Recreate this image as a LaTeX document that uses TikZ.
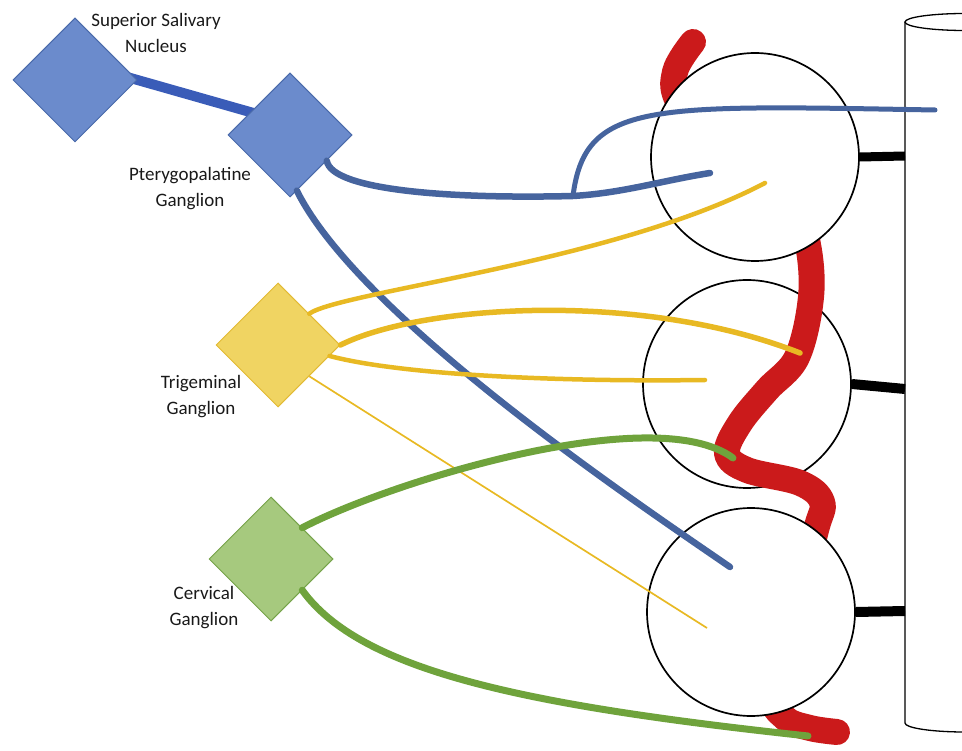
\documentclass[tikz,border=0pt]{standalone}
\usepackage{fontspec}
\setmainfont{Carlito}
\usetikzlibrary{shapes.geometric,backgrounds}

\definecolor{nucFill}{HTML}{6B8BCC}
\definecolor{nucEdge}{HTML}{4A6AAA}
\definecolor{tractBlue}{HTML}{3A5CB8}
\definecolor{nerveBlue}{HTML}{46649E}
\definecolor{triFill}{HTML}{F0D462}
\definecolor{triEdge}{HTML}{E2BA35}
\definecolor{nerveYellow}{HTML}{E8B923}
\definecolor{cerFill}{HTML}{A6C97E}
\definecolor{cerEdge}{HTML}{76A34A}
\definecolor{nerveGreen}{HTML}{6FA33C}
\definecolor{vesselRed}{HTML}{CB1A1B}

\begin{document}
\begin{tikzpicture}[x=1pt, y=-1pt,
  ganglion/.style={diamond, minimum size=124pt, inner sep=0pt, line width=1pt},
  cell/.style={circle, draw=black, fill=white, minimum size=208pt, inner sep=0pt, line width=1.7pt},
  tag/.style={align=center, inner sep=0pt, text=black!90, font=\fontsize{19}{26}\selectfont},
  nerve/.style={line width=6.5pt, line cap=round},
  vessel/.style={line width=26pt, line cap=round, vesselRed},
  bar/.style={line width=9pt, black}]

  \useasboundingbox (0,0) rectangle (962,751);
  \clip (0,0) rectangle (962,751);

  % cells with the vessel running between them
  \node[cell] (cellB) at (747,384) {};
  \draw[vessel] plot[smooth, tension=0.6] coordinates {(693,42) (675,72) (680,105) (730,170) (795,215) (808,245)
    (811,297) (797,357) (767,390) (740,423) (727,453) (747,470) (800,483) (822,502)
    (816,530) (795,610) (772,690) (785,718) (810,728) (837,732)};
  \node[cell] (cellA) at (755,157) {};
  \node[cell] (cellC) at (751,612) {};

  % duct
  \draw[line width=1.3pt] (905,22) -- (905,723) arc[start angle=180, end angle=0, x radius=60, y radius=9] -- (1025,22);
  \draw[line width=1.3pt, fill=white] (965,22) ellipse [x radius=60, y radius=8.5];
  \coordinate (poleA) at (905,156);
  \coordinate (poleB) at (905,389);
  \coordinate (poleC) at (905,611);
  \draw[bar] (cellA.east) -- (poleA);
  \draw[bar, line width=10pt] (cellB.east) -- (poleB);
  \draw[bar, line width=10pt] (cellC.east) -- (poleC);

  % ganglia
  \node[ganglion, fill=nucFill, draw=nucEdge] (ssn) at (75,80) {};
  \node[ganglion, fill=nucFill, draw=nucEdge] (pg) at (290,135) {};
  \node[ganglion, fill=triFill, draw=triEdge] (tg) at (278,345) {};
  \node[ganglion, fill=cerFill, draw=cerEdge] (cg) at (271,559) {};

  \node[tag] (ssn-label) at (156,33) {Superior Salivary\\Nucleus};
  \node[tag] (pg-label) at (190,189) {Pterygopalatine\\Ganglion};
  \node[tag] (tg-label) at (201,397) {Trigeminal\\Ganglion};
  \node[tag] (cg-label) at (204,608) {Cervical\\Ganglion};

  \begin{scope}[on background layer]
    \draw[line width=10pt, tractBlue, shorten <=-15pt, shorten >=-15pt] (ssn.east) -- (pg.150);
  \end{scope}

  % nerve endings
  \coordinate (fork) at (573,196);
  \coordinate (tipB1) at (710,173);
  \coordinate (tipB2) at (935,110);
  \coordinate (tipB3) at (730,567);
  \coordinate (tipY1) at (765,183);
  \coordinate (tipY2) at (800,353);
  \coordinate (tipY3) at (705,380);
  \coordinate (tipY4) at (707,628);
  \coordinate (tipG1) at (733,458);
  \coordinate (tipG2) at (808,736);

  \draw[nerve, nerveBlue] (pg.-35) .. controls +(5,30) and +(-120,3) .. (fork)
    .. controls +(50,-3) and +(-50,8) .. (tipB1);
  \draw[nerve, nerveBlue, line width=5pt] (fork) .. controls +(12,-95) and +(-285,-5) .. (tipB2);
  \draw[nerve, nerveBlue] (pg.-83) .. controls +(63,127) and +(-90,-62) .. (tipB3);

  \draw[nerve, nerveYellow, line width=4.5pt] (tg.north east) .. controls +(30,-22) and +(-150,79) .. (tipY1);
  \draw[nerve, nerveYellow, line width=5.5pt] (tg.east) .. controls +(80,-40) and +(-160,-63) .. (tipY2);
  \draw[nerve, nerveYellow, line width=4.5pt] (tg.-12) .. controls +(71,19) and +(-145,2) .. (tipY3);
  \draw[nerveYellow, line width=1.7pt] (tg.south east) -- (tipY4);

  \draw[nerve, nerveGreen, line width=7pt] (cg.north east) .. controls +(88,-46) and +(-78,-58) .. (tipG1);
  \draw[nerve, nerveGreen, line width=7pt] (cg.south east) .. controls +(58,80) and +(-288,-31) .. (tipG2);

\end{tikzpicture}
\end{document}
